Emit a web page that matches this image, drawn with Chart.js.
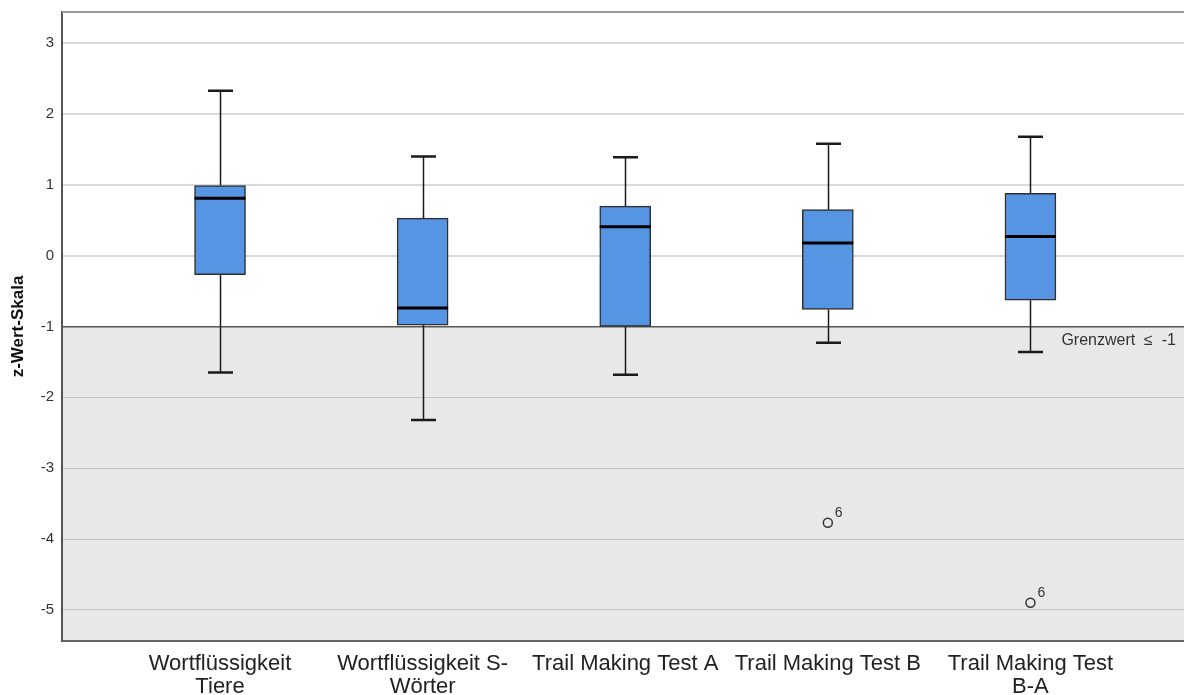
<!DOCTYPE html>
<html>
<head>
<meta charset="utf-8">
<script src="https://cdn.jsdelivr.net/npm/chart.js@4/dist/chart.umd.min.js"></script>
<style>
  html, body { margin: 0; padding: 0; background: #ffffff; overflow: hidden; }
  #wrap { width: 1184px; height: 695px; overflow: hidden; }
  #c { display: block; }
</style>
</head>
<body>
<div id="wrap"><canvas id="c" width="1190" height="695"></canvas></div>
<script>
// Test categories (multi-line axis labels)
const categories = [
  ['Wortflüssigkeit', 'Tiere'],
  ['Wortflüssigkeit S-', 'Wörter'],
  ['Trail Making Test A'],
  ['Trail Making Test B'],
  ['Trail Making Test', 'B-A']
];
// Box plot statistics per test (z-values)
const whiskerLow  = [-1.65, -2.32, -1.68, -1.23, -1.36];
const q1          = [-0.27, -0.98, -1.00, -0.76, -0.63];
const median      = [ 0.81, -0.74,  0.41,  0.18,  0.27];
const q3          = [ 0.99,  0.53,  0.70,  0.65,  0.88];
const whiskerHigh = [ 2.33,  1.40,  1.39,  1.58,  1.68];
// Outliers: category position, value, case label
const outlierPos    = [4, 5];
const outlierValue  = [-3.77, -4.90];
const outlierLabel  = ['6', '6'];
// Axis ticks and cutoff
const yTicks = [-5, -4, -3, -2, -1, 0, 1, 2, 3];
const threshold = -1;
const thresholdText = 'Grenzwert  \u2264  -1';

const FONT = "'Liberation Sans', Arial, sans-serif";
const positions = categories.map((_, i) => i + 1);

const boxData = positions.map((p, i) => ({ x: p, y: [q1[i], q3[i]] }));
const outlierData = outlierPos.map((p, i) => ({ x: p, y: outlierValue[i] }));

const boxPlotPlugin = {
  id: 'boxPlotExtras',
  beforeDraw(chart) {
    // shaded region below the cutoff
    const { ctx, chartArea, scales } = chart;
    const yT = scales.y.getPixelForValue(threshold);
    ctx.save();
    ctx.fillStyle = '#e8e8e8';
    ctx.fillRect(chartArea.left, yT, chartArea.right - chartArea.left, chartArea.bottom - yT);
    ctx.restore();
  },
  beforeDatasetsDraw(chart) {
    // whiskers and caps
    const { ctx, scales } = chart;
    const xs = scales.x, ys = scales.y;
    ctx.save();
    ctx.strokeStyle = '#1a1a1a';
    positions.forEach((p, i) => {
      const x = Math.round(xs.getPixelForValue(p)) + 0.5;
      const yHi = ys.getPixelForValue(whiskerHigh[i]);
      const yLo = ys.getPixelForValue(whiskerLow[i]);
      const yQ3 = ys.getPixelForValue(q3[i]);
      const yQ1 = ys.getPixelForValue(q1[i]);
      ctx.lineWidth = 1.5;
      ctx.beginPath();
      ctx.moveTo(x, yHi); ctx.lineTo(x, yQ3);
      ctx.moveTo(x, yQ1); ctx.lineTo(x, yLo);
      ctx.stroke();
      ctx.lineWidth = 2.5;
      ctx.beginPath();
      ctx.moveTo(x - 12.5, yHi); ctx.lineTo(x + 12.5, yHi);
      ctx.moveTo(x - 12.5, yLo); ctx.lineTo(x + 12.5, yLo);
      ctx.stroke();
    });
    ctx.restore();
  },
  afterDatasetsDraw(chart) {
    const { ctx, chartArea, scales } = chart;
    const xs = scales.x, ys = scales.y;
    const boxMeta = chart.getDatasetMeta(0);
    ctx.save();
    // medians across each box
    ctx.strokeStyle = '#000000';
    ctx.lineWidth = 3;
    boxMeta.data.forEach((bar, i) => {
      const half = bar.width / 2;
      const y = ys.getPixelForValue(median[i]);
      ctx.beginPath();
      ctx.moveTo(bar.x - half, y);
      ctx.lineTo(bar.x + half, y);
      ctx.stroke();
    });
    // outlier case labels
    ctx.fillStyle = '#333333';
    ctx.font = '14px ' + FONT;
    ctx.textAlign = 'left';
    ctx.textBaseline = 'middle';
    outlierPos.forEach((p, i) => {
      const x = xs.getPixelForValue(p);
      const y = ys.getPixelForValue(outlierValue[i]);
      ctx.fillText(outlierLabel[i], x + 7, y - 10);
    });
    // cutoff label, right-aligned near the plot's right edge
    const yT = ys.getPixelForValue(threshold);
    ctx.font = '16px ' + FONT;
    ctx.textAlign = 'right';
    ctx.fillStyle = '#333333';
    ctx.fillText(thresholdText, chartArea.right - 8, yT + 14);
    // top frame line
    ctx.strokeStyle = '#9a9a9a';
    ctx.lineWidth = 2;
    ctx.beginPath();
    ctx.moveTo(chartArea.left, chartArea.top);
    ctx.lineTo(chartArea.right, chartArea.top);
    ctx.stroke();
    ctx.restore();
  }
};

new Chart(document.getElementById('c'), {
  type: 'bar',
  data: {
    datasets: [
      {
        type: 'bar',
        data: boxData,
        backgroundColor: '#5595e4',
        borderColor: '#2f2f2f',
        borderWidth: 1.5,
        borderSkipped: false,
        barThickness: 51,
        grouped: false,
        order: 2
      },
      {
        type: 'scatter',
        data: outlierData,
        backgroundColor: 'rgba(0,0,0,0)',
        borderColor: '#333333',
        borderWidth: 1.5,
        pointRadius: 4.5,
        pointHoverRadius: 4.5,
        order: 1
      }
    ]
  },
  options: {
    responsive: false,
    animation: false,
    devicePixelRatio: 1,
    layout: { padding: { top: 12, right: 0, left: 0, bottom: 0 } },
    plugins: {
      legend: { display: false },
      tooltip: { enabled: false }
    },
    scales: {
      x: {
        type: 'linear',
        offset: false,
        min: 0.22,
        max: 5.758,
        afterBuildTicks(scale) { scale.ticks = positions.map(v => ({ value: v })); },
        afterFit(scale) {
          scale.height = 54;
          scale.paddingLeft = 0;
          scale.paddingRight = 0;
        },
        grid: { display: false, drawTicks: false },
        border: { display: true, color: '#666666', width: 2 },
        ticks: {
          autoSkip: false,
          maxRotation: 0,
          padding: 11,
          color: '#222222',
          font: { family: FONT, size: 22, lineHeight: 1.07 },
          callback: (v) => categories[v - 1] || ''
        }
      },
      y: {
        min: -5.44,
        max: 3.44,
        afterBuildTicks(scale) { scale.ticks = yTicks.map(v => ({ value: v })); },
        afterFit(scale) {
          scale.width = 62;
          scale.paddingTop = 0;
          scale.paddingBottom = 0;
        },
        grid: {
          drawTicks: false,
          color: (ctx) => {
            const v = ctx.tick && ctx.tick.value;
            if (v === threshold) return '#555555';
            return v < threshold ? '#c2c2c2' : '#dadada';
          },
          lineWidth: (ctx) => {
            const v = ctx.tick && ctx.tick.value;
            if (v === threshold) return 1.5;
            return v < threshold ? 1 : 2;
          }
        },
        border: { display: true, color: '#555555', width: 2 },
        ticks: {
          padding: 8,
          color: '#333333',
          font: { family: FONT, size: 15 }
        },
        title: {
          display: true,
          text: 'z-Wert-Skala',
          color: '#111111',
          font: { family: FONT, size: 17, weight: 'bold' },
          padding: { top: 8, bottom: 0 }
        }
      }
    }
  },
  plugins: [boxPlotPlugin]
});
</script>
</body>
</html>
